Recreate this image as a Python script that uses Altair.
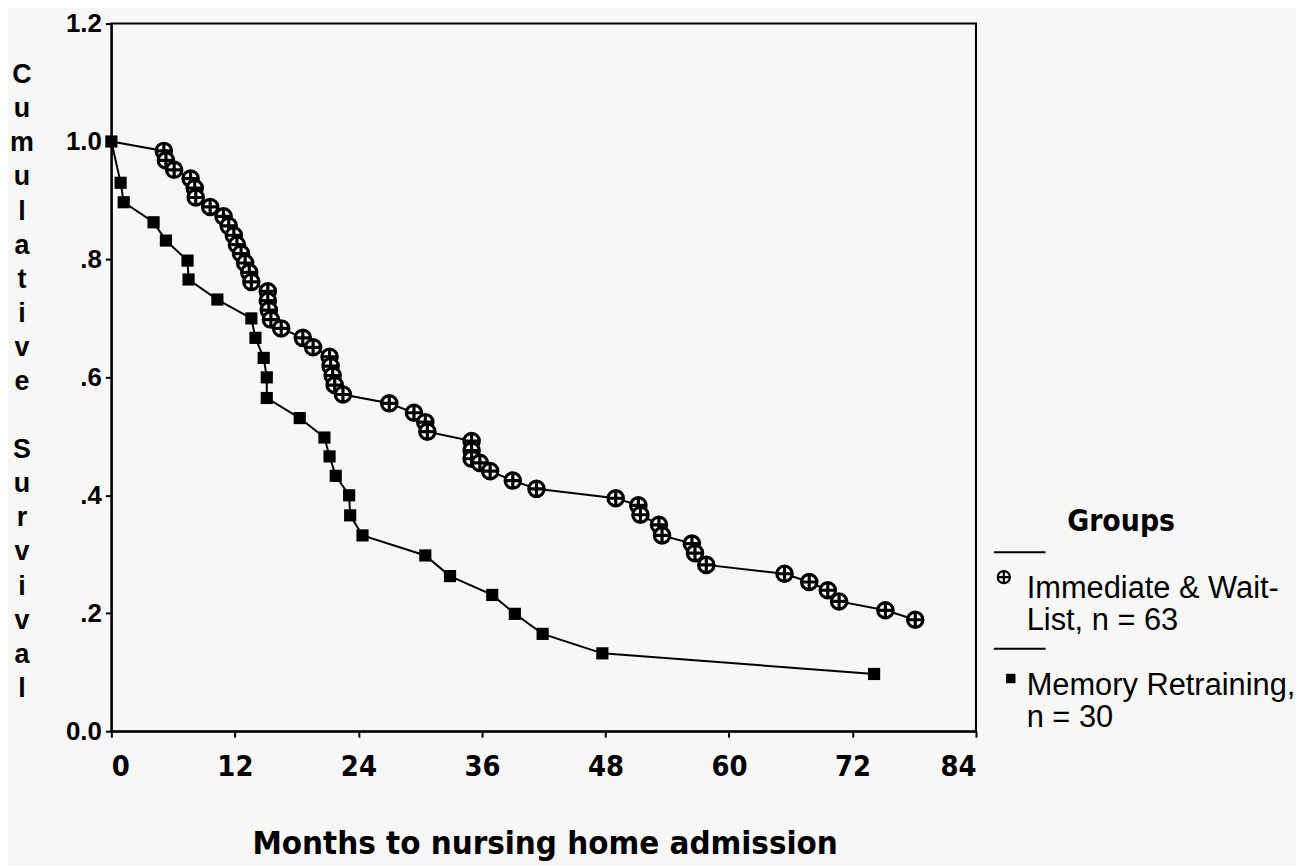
import altair as alt
import pandas as pd

# Immediate & Wait-List group (circles with cross)
circ_month = [0, 5.1, 5.3, 6.1, 7.7, 8.1, 8.2, 9.6, 10.9, 11.4, 11.9, 12.2, 12.6, 13.0, 13.4, 13.6,
              15.2, 15.2, 15.3, 15.5, 16.5, 18.6, 19.6, 21.2, 21.3, 21.5, 21.7, 22.5, 27.0, 29.4,
              30.5, 30.7, 35.0, 35.0, 35.0, 35.8, 36.8, 39.0, 41.3, 49.0, 51.2, 51.4, 53.2, 53.5,
              56.4, 56.7, 57.8, 65.4, 67.8, 69.6, 70.7, 75.2, 78.1]
circ_surv = [1.0, 0.984, 0.968, 0.952, 0.937, 0.921, 0.905, 0.889, 0.873, 0.857, 0.841, 0.825,
             0.810, 0.794, 0.778, 0.762, 0.746, 0.730, 0.714, 0.698, 0.683, 0.667, 0.651, 0.635,
             0.619, 0.603, 0.587, 0.571, 0.556, 0.540, 0.524, 0.508, 0.492, 0.476, 0.462, 0.455,
             0.441, 0.425, 0.411, 0.395, 0.383, 0.367, 0.350, 0.332, 0.318, 0.302, 0.282, 0.267,
             0.253, 0.239, 0.220, 0.205, 0.189]

# Memory Retraining group (filled squares)
sq_month = [0, 0.9, 1.2, 4.1, 5.3, 7.4, 7.5, 10.3, 13.6, 14.0, 14.8, 15.1, 15.1, 18.3, 20.7,
            21.2, 21.8, 23.1, 23.2, 24.4, 30.5, 32.9, 37.0, 39.2, 41.9, 47.7, 74.1]
sq_surv = [1.0, 0.930, 0.897, 0.863, 0.832, 0.798, 0.766, 0.732, 0.700, 0.667, 0.633, 0.600,
           0.565, 0.531, 0.498, 0.466, 0.433, 0.400, 0.366, 0.332, 0.298, 0.263, 0.231, 0.199,
           0.165, 0.132, 0.097]

x_ticks = [0, 12, 24, 36, 48, 60, 72, 84]
y_ticks = [0.0, 0.2, 0.4, 0.6, 0.8, 1.0, 1.2]

y_title_1 = list("Cumulative")
y_title_2 = list("Survival")
x_title = "Months to nursing home admission"
legend_title = "Groups"
legend_1 = ["Immediate & Wait-", "List, n = 63"]
legend_2 = ["Memory Retraining,", "n = 30"]

rows = []
for i, (m, s) in enumerate(zip(circ_month, circ_surv)):
    rows.append({"month": m, "surv": s, "group": "Immediate & Wait-List", "idx": i,
                 "marker": i > 0})
for i, (m, s) in enumerate(zip(sq_month, sq_surv)):
    rows.append({"month": m, "surv": s, "group": "Memory Retraining", "idx": i,
                 "marker": True})
df = pd.DataFrame(rows)

NARROW = "Liberation Sans Narrow, DejaVu Sans Condensed, Arial Narrow, sans-serif"
SANS = "Liberation Sans, Arial, Helvetica, sans-serif"

CROSS_CIRCLE = ("M1,0 C1,0.5523 0.5523,1 0,1 C-0.5523,1 -1,0.5523 -1,0 "
                "C-1,-0.5523 -0.5523,-1 0,-1 C0.5523,-1 1,-0.5523 1,0 Z "
                "M-1,0 L1,0 M0,-1 L0,1")

xscale = alt.Scale(domain=[0, 84], nice=False, zero=False)
yscale = alt.Scale(domain=[0, 1.2], nice=False)

xaxis = alt.Axis(values=x_ticks, title=x_title, grid=False, domainColor="black", domainWidth=2,
                 tickColor="black", tickWidth=2, tickSize=6, labelFont=NARROW,
                 labelFontWeight="bold", labelFontSize=29, labelColor="black", labelPadding=16,
                 titleFont=NARROW, titleFontWeight="bold", titleFontSize=33, titleColor="black",
                 titleX=436, titleY=123, titleBaseline="alphabetic", titleAlign="center")
yaxis = alt.Axis(values=y_ticks, title=None, grid=False, domainColor="black", domainWidth=2,
                 tickColor="black", tickWidth=2, tickSize=6, labelFont=SANS,
                 labelFontWeight="bold", labelFontSize=26, labelColor="black", labelPadding=4,
                 labelExpr="datum.value > 0.01 && datum.value < 0.99 ? slice(format(datum.value, '.1f'), 1) : format(datum.value, '.1f')")

base = alt.Chart(df)

lines = base.mark_line(color="black", strokeWidth=2).encode(
    x=alt.X("month:Q", scale=xscale, axis=xaxis),
    y=alt.Y("surv:Q", scale=yscale, axis=yaxis),
    detail="group:N",
    order="idx:Q",
)

circles = base.transform_filter(
    (alt.datum.group == "Immediate & Wait-List") & (alt.datum.marker == True)
).mark_point(shape=CROSS_CIRCLE, filled=False, fill="white", fillOpacity=1, stroke="black",
             strokeWidth=3.2, size=240, opacity=1).encode(x="month:Q", y="surv:Q")

squares = base.transform_filter(alt.datum.group == "Memory Retraining").mark_square(
    color="black", size=150, opacity=1).encode(x="month:Q", y="surv:Q")

one = pd.DataFrame({"a": [0]})


def label(text, x, y, size, font=SANS, weight="normal", align="left", baseline="alphabetic",
          lh=None):
    kw = dict(text=text, font=font, fontSize=size, fontWeight=weight, align=align,
              baseline=baseline, color="black")
    if lh is not None:
        kw["lineHeight"] = lh
    return alt.Chart(one).mark_text(**kw).encode(x=alt.value(x), y=alt.value(y))


ytitle = [
    label(y_title_1, -90, 39, 27, weight="bold", align="center", baseline="top", lh=34.3),
    label(y_title_2, -90, 39 + 11 * 34.3, 27, weight="bold", align="center", baseline="top",
          lh=34.3),
]

leg = [
    label(legend_title, 1016, 511, 30, font=NARROW, weight="bold", align="center"),
    alt.Chart(one).mark_rule(color="black", strokeWidth=2).encode(
        x=alt.value(888), x2=alt.value(940), y=alt.value(532)),
    alt.Chart(one).mark_point(shape=CROSS_CIRCLE, filled=False, fill="white", fillOpacity=1,
                              stroke="black", strokeWidth=2.2, size=150, opacity=1).encode(
        x=alt.value(898), y=alt.value(557)),
    label(legend_1, 921, 578, 31, lh=32),
    alt.Chart(one).mark_rule(color="black", strokeWidth=2).encode(
        x=alt.value(888), x2=alt.value(940), y=alt.value(629)),
    alt.Chart(one).mark_square(color="black", size=90, opacity=1).encode(
        x=alt.value(905), y=alt.value(659)),
    label(legend_2, 921, 676, 31, lh=32),
]

chart = alt.layer(lines, circles, squares, *ytitle, *leg).properties(
    width=870, height=712,
    autosize=alt.AutoSizeParams(type="none"),
    padding={"left": 104, "top": 13, "right": 322, "bottom": 133},
    background="#f7f7f5",
).configure_view(stroke="black", strokeWidth=2)

chart.save("out.html", embed_options={"renderer": "svg", "actions": False})
